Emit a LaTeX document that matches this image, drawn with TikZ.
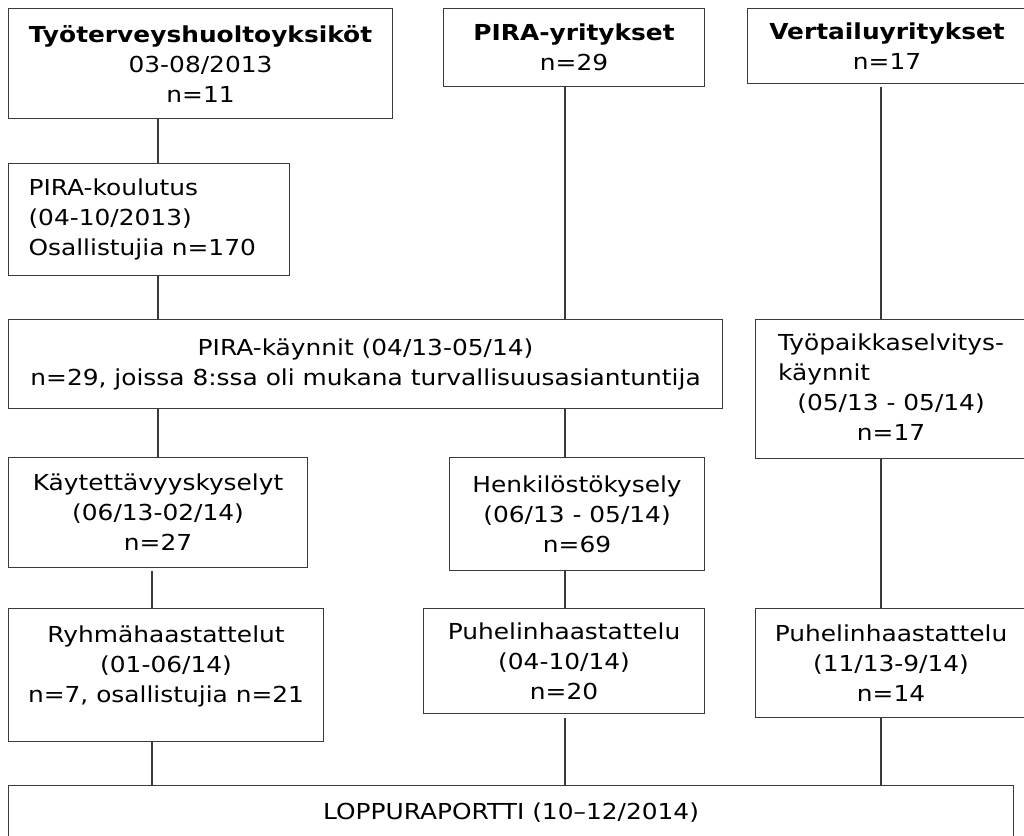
\documentclass[tikz,border=0pt]{standalone}
\usepackage{fontspec}
\setmainfont[FakeStretch=1.13]{DejaVu Sans}
\definecolor{linegray}{HTML}{3A3A3A}
\begin{document}
\begin{tikzpicture}[x=1pt,y=-1pt,
  every node/.style={font=\fontsize{22}{30}\selectfont},
  box/.style={draw=linegray, line width=1.1pt, rectangle, inner sep=0pt, anchor=north west, align=center},
  conn/.style={draw=linegray, line width=1.1pt}]
\useasboundingbox (0,0) rectangle (1024,835);
\clip (0,0) rectangle (1024,835);
% top row
\node[box, minimum width=384pt, minimum height=110pt] (b1) at (8,8)
  {\textbf{Työterveyshuoltoyksiköt}\\03-08/2013\\n=11};
\node[box, minimum width=261pt, minimum height=78pt] (b2) at (443,8)
  {\textbf{PIRA-yritykset}\\n=29};
\node[box, minimum width=279pt, minimum height=75pt] (b3) at (747,8)
  {\textbf{Vertailuyritykset}\\n=17};
% second
\node[box, minimum height=112pt, text width=241pt, inner xsep=20pt, align=left] (k1) at (8,163)
  {PIRA-koulutus\\(04-10/2013)\\Osallistujia n=170};
% third
\node[box, minimum width=714pt, minimum height=89pt] (kay) at (8,319)
  {\raisebox{2pt}{\begin{tabular}{@{}c@{}}PIRA-käynnit (04/13-05/14)\\n=29, joissa 8:ssa oli mukana turvallisuusasiantuntija\end{tabular}}};
\node[box, minimum width=271pt, minimum height=139pt] (tp) at (755,319)
  {\raisebox{-3pt}{\begin{tabular}{@{}l@{}}Työpaikkaselvitys-\\käynnit\\\multicolumn{1}{@{}c@{}}{(05/13 - 05/14)}\\\multicolumn{1}{@{}c@{}}{n=17}\end{tabular}}};
% fourth
\node[box, minimum width=299pt, minimum height=110pt] (ky) at (8,457)
  {Käytettävyyskyselyt\\(06/13-02/14)\\n=27};
\node[box, minimum width=255pt, minimum height=113pt] (hk) at (449,457)
  {Henkilöstökysely\\(06/13 - 05/14)\\n=69};
% fifth
\node[box, minimum width=315pt, minimum height=133pt] (ry) at (8,608)
  {Ryhmähaastattelut\\(01-06/14)\\n=7, osallistujia n=21\\[-18pt]\strut};
\node[box, minimum width=281pt, minimum height=105pt] (pm) at (423,608)
  {Puhelinhaastattelu\\(04-10/14)\\n=20};
\node[box, minimum width=271pt, minimum height=109pt] (pr) at (755,608)
  {Puhelinhaastattelu\\(11/13-9/14)\\n=14};
% final
\node[box, minimum width=1005pt, minimum height=55pt] (lr) at (8,785)
  {LOPPURAPORTTI (10–12/2014)};
% connector columns
\coordinate (xa) at (158,0);
\coordinate (xb) at (565,0);
\coordinate (xc) at (881,0);
\coordinate (xd) at (152,0);
\draw[conn] (b1.south -| xa) -- (k1.north -| xa);
\draw[conn] (k1.south -| xa) -- (kay.north -| xa);
\draw[conn] (b2.south -| xb) -- (kay.north -| xb);
\draw[conn, shorten <=3pt] (b3.south -| xc) -- (tp.north -| xc);
\draw[conn] (kay.south -| xa) -- (ky.north -| xa);
\draw[conn] (kay.south -| xb) -- (hk.north -| xb);
\draw[conn, shorten <=3pt] (ky.south -| xd) -- (ry.north -| xd);
\draw[conn] (hk.south -| xb) -- (pm.north -| xb);
\draw[conn] (ry.south -| xd) -- (lr.north -| xd);
\draw[conn, shorten <=4pt] (pm.south -| xb) -- (lr.north -| xb);
\draw[conn] (tp.south -| xc) -- (pr.north -| xc);
\draw[conn] (pr.south -| xc) -- (lr.north -| xc);
\end{tikzpicture}
\end{document}
